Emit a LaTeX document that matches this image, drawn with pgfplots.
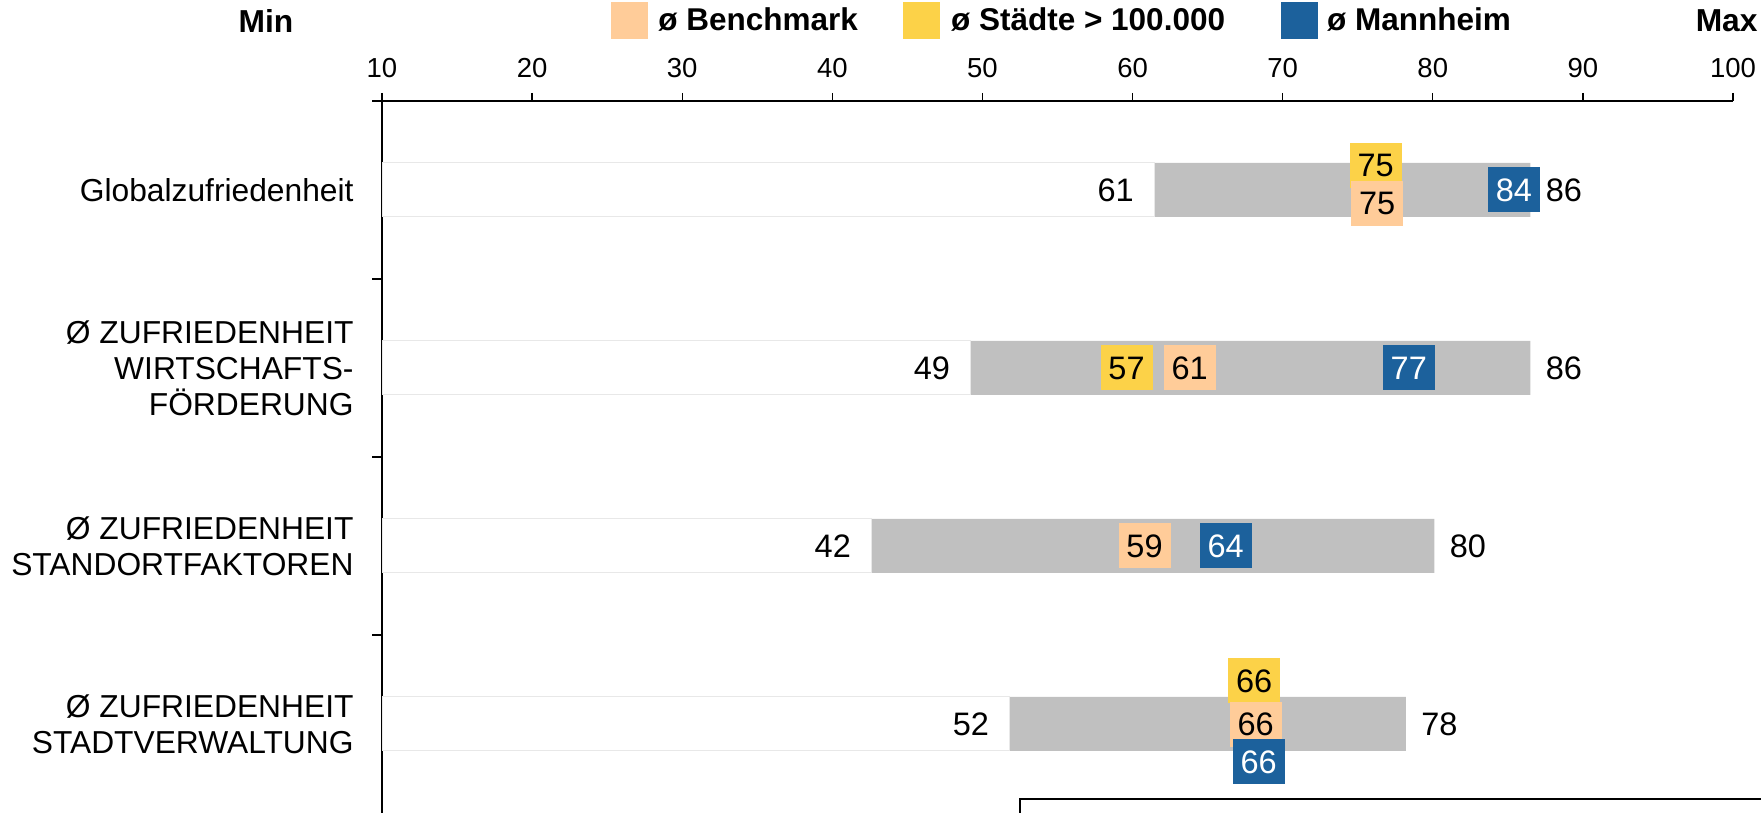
\documentclass[border=0pt]{standalone}
\usepackage{fontspec}
\setmainfont{Liberation Sans}
\usepackage{pgfplots}
\pgfplotsset{compat=1.18}
\definecolor{benchc}{RGB}{255,204,153}
\definecolor{stadtc}{RGB}{252,210,72}
\definecolor{mannc}{RGB}{28,97,156}
\definecolor{barc}{RGB}{192,192,192}
\begin{document}
\begin{tikzpicture}[x=0.4pt,y=0.4pt]
\useasboundingbox (0,0) rectangle (1761,813);
\begin{axis}[
  at={(152.8pt,0pt)}, anchor=south west,
  scale only axis, width=540.4pt, height=284.8pt,
  xmin=10, xmax=100, ymin=0, ymax=4,
  axis x line*=top, axis y line*=left,
  axis line style={line width=0.5pt, black},
  xtick={10,20,...,100},
  tick align=outside,
  major tick length=3.2pt,
  minor tick length=4pt,
  tick style={black, line width=0.5pt},
  /pgf/number format/assume math mode=true,
  xticklabel style={font=\fontsize{11}{11}\selectfont, inner sep=0pt, anchor=base, yshift=6pt},
  ytick={0.5,1.5,2.5,3.5},
  yticklabels={{Ø ZUFRIEDENHEIT\\STADTVERWALTUNG},{Ø ZUFRIEDENHEIT\\STANDORTFAKTOREN},{Ø ZUFRIEDENHEIT\\WIRTSCHAFTS-\\FÖRDERUNG},Globalzufriedenheit},
  every major y tick/.append style={draw=none},
  minor ytick={1,2,3},
  yticklabel style={align=right, font=\fontsize{12.7}{14.4}\selectfont, inner sep=0pt, anchor=east, xshift=-8pt},
  legend style={draw=none, fill=none, inner sep=0pt, at={(0.1695,1.1124)}, anchor=west,
    font=\fontsize{12.6}{13}\selectfont\bfseries, nodes={inner sep=0pt},
    /tikz/column 1/.style={column sep=4pt}, /tikz/column 2/.style={column sep=18pt},
    /tikz/column 3/.style={column sep=4.4pt}, /tikz/column 4/.style={column sep=22.4pt},
    /tikz/column 5/.style={column sep=3.6pt}},
  legend columns=3,
  legend image code/.code={\fill[#1] (0pt,-7.2pt) rectangle (14.4pt,7.2pt);},
]
% range bars: grey from Min to Max (white from axis to Min)
\addplot[forget plot, xbar, bar width=21.6pt, bar shift=0pt, fill=barc, draw=none] table {
x y
86.5 3.5
86.5 2.5
80.1 1.5
78.2 0.5
};
\addplot[forget plot, xbar, bar width=21.6pt, bar shift=0pt, fill=white, draw=black!9, line width=0.4pt] table {
x y
61.45 3.5
49.2 2.5
42.6 1.5
51.8 0.5
};
% Min labels
\addplot[forget plot, draw=none, mark=none, nodes near coords, point meta=explicit symbolic,
  every node near coord/.style={anchor=east, inner sep=0pt, xshift=-8pt, text=black, font=\fontsize{13}{13}\selectfont}] table[meta=l] {
x y l
61.45 3.5 61
49.2 2.5 49
42.6 1.5 42
51.8 0.5 52
};
% Max labels
\addplot[forget plot, draw=none, mark=none, nodes near coords, point meta=explicit symbolic,
  every node near coord/.style={anchor=west, inner sep=0pt, xshift=6pt, text=black, font=\fontsize{13}{13}\selectfont}] table[meta=l] {
x y l
86.5 3.5 86
86.5 2.5 86
80.1 1.5 80
78.2 0.5 78
};
% Staedte > 100.000
\addplot[forget plot, draw=none, mark=none, nodes near coords, point meta=explicit symbolic,
  every node near coord/.style={anchor=center, fill=stadtc, text=black, minimum width=20.8pt, minimum height=18pt, inner sep=0pt, font=\fontsize{13}{13}\selectfont}] table[meta=l] {
x y l
76.2 3.635 75
59.6 2.5 57
60.85 1.5 59
68.1 0.742 66
};
% Benchmark
\addplot[forget plot, draw=none, mark=none, nodes near coords, point meta=explicit symbolic,
  every node near coord/.style={anchor=center, fill=benchc, text=black, minimum width=20.8pt, minimum height=18pt, inner sep=0pt, font=\fontsize{13}{13}\selectfont}] table[meta=l] {
x y l
76.3 3.424 75
63.8 2.5 61
60.8 1.5 59
68.2 0.497 66
};
% Mannheim
\addplot[forget plot, draw=none, mark=none, nodes near coords, point meta=explicit symbolic,
  every node near coord/.style={anchor=center, fill=mannc, text=white, minimum width=20.8pt, minimum height=18pt, inner sep=0pt, font=\fontsize{13}{13}\selectfont}] table[meta=l] {
x y l
85.4 3.5 84
78.4 2.5 77
66.2 1.5 64
68.4 0.287 66
};
\addlegendimage{benchc}\addlegendentry{ø Benchmark}
\addlegendimage{stadtc}\addlegendentry{ø Städte > 100.000}
\addlegendimage{mannc}\addlegendentry{ø Mannheim}
\end{axis}
\draw[line width=0.5pt] (372,712) -- (383,712);
\node[font=\fontsize{12.7}{13}\selectfont\bfseries] at (266,792) {Min};
\node[font=\fontsize{12.7}{13}\selectfont\bfseries, anchor=east, inner sep=0pt] at (1758,792) {Max};
\draw[line width=1pt] (1020,-20) -- (1020,14) -- (1800,14);
\end{tikzpicture}
\end{document}
